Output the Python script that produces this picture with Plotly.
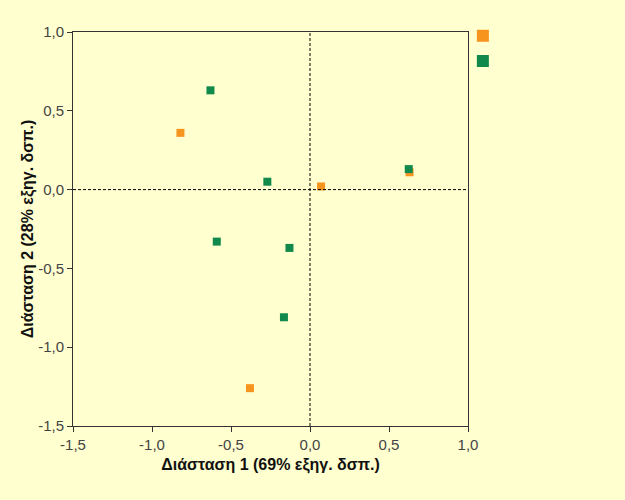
import plotly.graph_objects as go

orange_x = [-0.82, 0.07, 0.63, -0.38]
orange_y = [0.36, 0.02, 0.11, -1.26]
green_x = [-0.63, -0.27, 0.625, -0.59, -0.13, -0.165]
green_y = [0.63, 0.05, 0.13, -0.33, -0.37, -0.81]

tick_vals = [-1.5, -1.0, -0.5, 0.0, 0.5, 1.0]
tick_text = ["-1,5", "-1,0", "-0,5", "0,0", "0,5", "1,0"]

x_title = "Διάσταση 1 (69% εξηγ. δσπ.)"
y_title = "Διάσταση 2 (28% εξηγ. δσπ.)"

bg = "#FFFFD0"
orange = "#F7941E"
green = "#11894A"
font_family = "Liberation Sans, Arial"

fig = go.Figure()
fig.add_trace(go.Scatter(x=orange_x, y=orange_y, mode="markers", name=" ", legendgroup="a",
                         marker=dict(symbol="square", size=8, color=orange)))
fig.add_trace(go.Scatter(x=green_x, y=green_y, mode="markers", name=" ", legendgroup="b",
                         marker=dict(symbol="square", size=8, color=green)))

fig.add_shape(type="line", xref="x", yref="paper", x0=0, x1=0, y0=0, y1=1,
              line=dict(color="black", width=1, dash="3px,2px"))
fig.add_shape(type="line", xref="paper", yref="y", x0=0, x1=1, y0=0, y1=0,
              line=dict(color="black", width=1, dash="3px,2px"))

axis_common = dict(showgrid=False, zeroline=False, showline=True, linecolor="#333",
                   linewidth=1, mirror=True, ticks="outside", ticklen=5,
                   tickcolor="#333", tickvals=tick_vals, ticktext=tick_text,
                   range=[-1.5, 1.0],
                   tickfont=dict(family=font_family, size=15, color="#444"))

fig.update_xaxes(title=dict(text="<b>" + x_title + "</b>", standoff=6,
                            font=dict(family=font_family, size=16, color="#111")),
                 **axis_common)
fig.update_yaxes(title=dict(text="<b>" + y_title + "</b>", standoff=0,
                            font=dict(family=font_family, size=16, color="#111")),
                 **axis_common)

fig.update_layout(
    width=625, height=500,
    margin=dict(l=73, r=157, t=32, b=74),
    paper_bgcolor=bg, plot_bgcolor=bg,
    legend=dict(x=0.987, y=1.03, xanchor="left", yanchor="top", itemsizing="constant",
                bgcolor="rgba(0,0,0,0)", tracegroupgap=4,
                font=dict(size=14), itemwidth=30),
    showlegend=True,
)

fig.write_html("out.html")
